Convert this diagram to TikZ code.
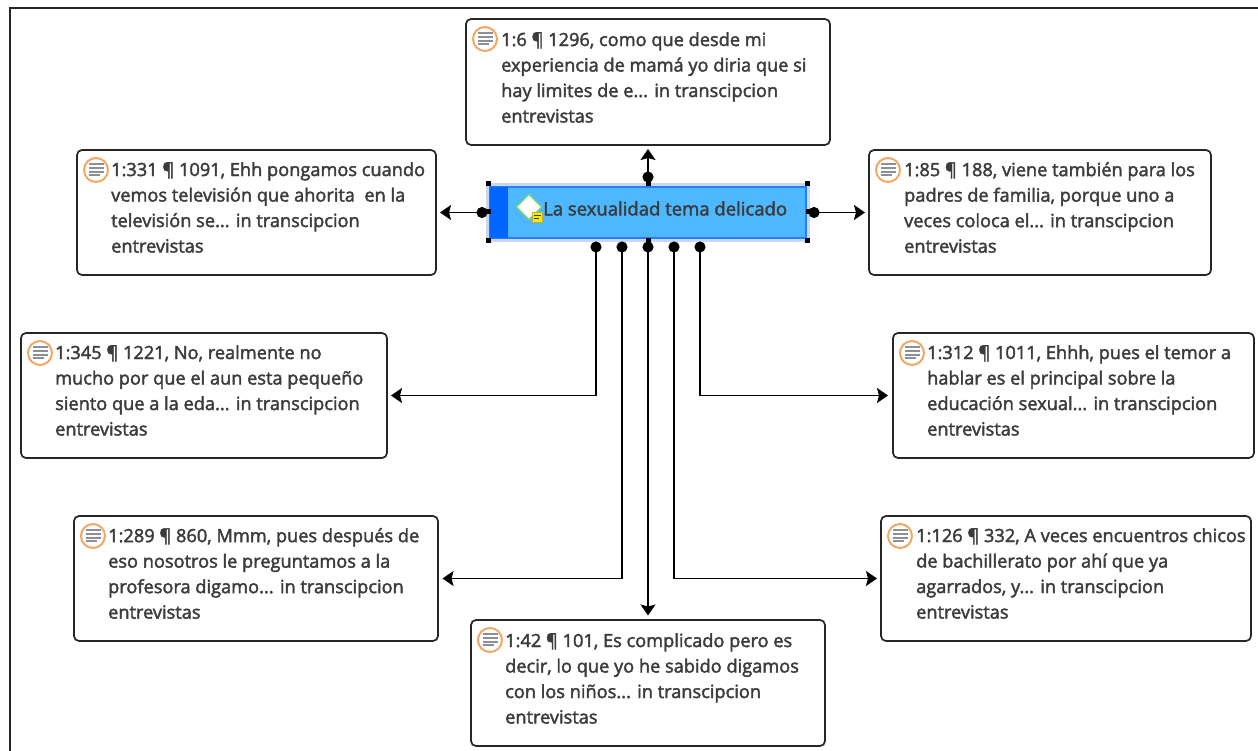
\documentclass[tikz,border=0pt]{standalone}
\usepackage{fontspec}
\setmainfont{Open Sans}
\usetikzlibrary{arrows.meta,positioning,shapes.geometric}
\definecolor{ink}{HTML}{3C3C3C}
\definecolor{ringc}{HTML}{F2A865}
\definecolor{barc}{HTML}{8A8F98}
\definecolor{codefill}{HTML}{4DB8FF}
\definecolor{codebar}{HTML}{0066FF}
\definecolor{halo}{HTML}{C9D7E8}
\newcommand{\semiweight}{\special{pdf:code 2 Tr 0.4 w}}
\tikzset{
  x=1pt,y=-1pt,
  card/.style={draw=black!85,line width=1.7pt,rounded corners=5pt,fill=white,inner sep=0pt,outer sep=0pt},
  cardtext/.style={anchor=north west,inner sep=0pt,align=left,text=ink,font=\fontsize{18.2}{25.5}\selectfont\semiweight},
  ring/.style={circle,draw=ringc,line width=2pt,fill=white,minimum size=24pt,inner sep=0pt},
  conn/.style={draw=black,line width=1.9pt,{Circle[length=11pt]}-{Stealth[length=11pt,width=15pt,inset=2pt]}},
  handle/.style={fill=black,minimum size=5pt,inner sep=0pt},
}
\newcommand{\quotecard}[8]{% name, x1,y1,x2,y2, textx, liney, text
  \node[card,minimum width=#4pt-#2pt,minimum height=#5pt-#3pt,anchor=north west] (#1) at (#2,#3) {};
  \node[ring] (#1i) at (#2+19,#3+20) {};
  \foreach \k/\w in {-6/7.5,-2.2/7.5,1.6/7.5,5.4/5.5}{\draw[barc,line width=2pt] (#2+19-7.5,#3+20+\k) -- ++(2*\w,0);}
  \node[cardtext] (#1t) at (#6,#7) {#8};
}
\begin{document}
\begin{tikzpicture}
\useasboundingbox (0,0) rectangle (1258,751);
\fill[white] (0,0) rectangle (1258,751);
\draw[black!85,line width=2.4pt] (10,751) -- (10,8) -- (1258,8);

\quotecard{top}{466}{19}{830}{145}{501}{32}{1:6 ¶ 1296, como que desde mi\\experiencia de mamá yo diria que si\\hay limites de e... in transcipcion\\entrevistas}
\quotecard{lone}{77}{150}{436}{275}{111}{162}{1:331 ¶ 1091, Ehh pongamos cuando\\vemos televisión que ahorita\ \ en la\\televisión se... in transcipcion\\entrevistas}
\quotecard{rone}{869}{150}{1211}{275}{904}{162}{1:85 ¶ 188, viene también para los\\padres de familia, porque uno a\\veces coloca el... in transcipcion\\entrevistas}
\quotecard{ltwo}{21}{333}{387}{458}{55}{345}{1:345 ¶ 1221, No, realmente no\\mucho por que el aun esta pequeño\\siento que a la eda... in transcipcion\\entrevistas}
\quotecard{rtwo}{893}{333}{1254}{458}{927}{345}{1:312 ¶ 1011, Ehhh, pues el temor a\\hablar es el principal sobre la\\educación sexual... in transcipcion\\entrevistas}
\quotecard{lthree}{74}{516}{438}{641}{108}{528}{1:289 ¶ 860, Mmm, pues después de\\eso nosotros le preguntamos a la\\profesora digamo... in transcipcion\\entrevistas}
\quotecard{rthree}{881}{516}{1251}{641}{916}{528}{1:126 ¶ 332, A veces encuentros chicos\\de bachillerato por ahí que ya\\agarrados, y... in transcipcion\\entrevistas}
\quotecard{bot}{471}{620}{825}{746}{505}{633}{1:42 ¶ 101, Es complicado pero es\\decir, lo que yo he sabido digamos\\con los niños... in transcipcion\\entrevistas}

% central code node
\fill[halo] (486,183) rectangle (810,242);
\node[draw=codebar!85!white,line width=1.4pt,fill=codefill,minimum width=316pt,minimum height=51pt,inner sep=0pt,outer sep=0pt,anchor=north west] (code) at (490,187) {};
\fill[codebar] (490,187) rectangle (508,238);
\node[diamond,draw=green!55!gray!70,line width=1.4pt,fill=white,minimum width=26pt,minimum height=26pt,inner sep=0pt] (codeicon) at (529,207) {};
\node[fill=yellow!90!orange,draw=yellow!70!black,line width=.5pt,minimum size=10pt,inner sep=0pt] (codenote) at (537.5,217) {};
\draw[ink,line width=.8pt] (534,215.5) -- ++(7,0) (534,218) -- ++(5,0);
\node[anchor=west,inner sep=0pt,text=ink,font=\fontsize{18.5}{22}\selectfont\semiweight] (codelabel) at (543,208.5) {La sexualidad tema delicado};
\foreach \n/\p/\q in {a/488/184,b/648/184,c/807/184,d/488/212,e/808/212,f/488/241,g/648/241,h/807/241}
  \node[handle] (h\n) at (\p,\q) {};

% connectors
\draw[conn,shorten <=4.5pt,shorten >=4pt] (code.north) -- (top.south);
\draw[conn,shorten <=2.5pt,shorten >=4pt] (code.west) -- (lone.east);
\draw[conn,shorten <=2.5pt,shorten >=4pt] (code.east) -- (rone.west);
\draw[conn,shorten <=3.5pt,shorten >=4.5pt] (code.south) -- (bot.north);
\draw[conn,shorten <=3.5pt,shorten >=4pt] ([xshift=-52pt]code.south) |- (ltwo.east);
\draw[conn,shorten <=3.5pt,shorten >=4.5pt] ([xshift=-26pt]code.south) |- (lthree.east);
\draw[conn,shorten <=3.5pt,shorten >=4pt] ([xshift=26pt]code.south) |- (rthree.west);
\draw[conn,shorten <=3.5pt,shorten >=5pt] ([xshift=52pt]code.south) |- (rtwo.west);
\end{tikzpicture}
\end{document}
